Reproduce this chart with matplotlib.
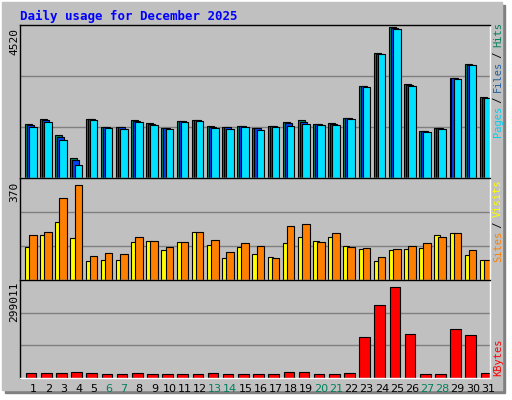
import matplotlib
matplotlib.use("Agg")
import matplotlib.pyplot as plt
from matplotlib.patches import Rectangle

days = list(range(1, 32))
weekend = [6, 7, 13, 14, 20, 21, 27, 28]
hits  = [1630,1780,1290,590,1780,1540,1540,1750,1660,1510,1720,1750,1570,1540,1570,1510,1570,1690,1750,1630,1660,1810,2760,3740,4520,2820,1420,1510,3000,3400,2420]
files = [1600,1740,1230,530,1760,1530,1520,1720,1630,1500,1700,1730,1540,1520,1550,1490,1550,1640,1680,1610,1630,1790,2740,3720,4490,2790,1400,1490,2980,3380,2400]
pages = [1540,1690,1140,380,1750,1510,1480,1690,1600,1480,1690,1720,1510,1480,1540,1450,1540,1570,1630,1600,1600,1780,2730,3700,4470,2760,1390,1480,2970,3370,2390]
sites  = [129,174,225,165,76,80,80,149,153,117,149,189,137,84,129,101,88,145,169,153,169,133,121,76,117,121,125,177,185,97,80]
visits = [174,189,319,370,92,105,101,169,153,129,149,189,157,109,145,133,84,209,217,149,185,129,125,88,121,133,145,169,185,117,80]
kbytes = [15300,15300,15300,18500,15300,12000,12000,15300,12000,12000,12000,12000,15300,12000,12000,12000,12000,18500,18500,12000,12000,15300,133100,237900,299011,143000,12000,12000,159300,139700,15300]
max_hits, max_visits, max_kb = 4520, 370, 299011

W, H = 512, 400
fig = plt.figure(figsize=(W/100, H/100), dpi=100)
fig.patch.set_facecolor("white")
mono = "DejaVu Sans Mono"

def fr(x0, y0, x1, y1):
    return [x0/W, 1 - y1/H, (x1-x0)/W, (y1-y0)/H]

bg = fig.add_axes([0, 0, 1, 1]); bg.set_xlim(0, W); bg.set_ylim(H, 0); bg.axis("off")
bg.add_patch(Rectangle((5, 5), 500, 388, color="#808080"))
bg.add_patch(Rectangle((2, 2), 500, 388, color="#c0c0c0"))
bg.text(20, 16, "Daily usage for December 2025", color="#0000ff", fontsize=9,
        fontweight="bold", family=mono, va="center")

def panel(y0, y1, top):
    ax = fig.add_axes(fr(20, y0, 490, y1))
    ax.set_facecolor("#c0c0c0")
    ax.set_xlim(0.5, 31.5); ax.set_ylim(0, top)
    ax.set_xticks([]); ax.set_yticks([])
    for g in (top/3, 2*top/3):
        ax.axhline(g, color="#808080", lw=1, zorder=0)
    for s in ax.spines.values():
        s.set_color("black"); s.set_linewidth(1)
    ax.spines["bottom"].set_color("white"); ax.spines["right"].set_color("white")
    return ax

kw = dict(align="edge", edgecolor="black", linewidth=0.8)
d = days
ax1 = panel(25, 178, max_hits*150/148)
ax1.bar([x-0.17 for x in d], hits, 0.46, color="#00805c", **kw)
ax1.bar([x-0.04 for x in d], files, 0.46, color="#0042f0", **kw)
ax1.bar([x+0.10 for x in d], pages, 0.50, color="#00e0ff", **kw)

ax2 = panel(178, 280, max_visits*99/92)
ax2.bar([x-0.17 for x in d], sites, 0.36, color="#ffff00", **kw)
ax2.bar([x+0.10 for x in d], visits, 0.50, color="#ff8000", **kw)

ax3 = panel(280, 378, max_kb*98/91.3)
ax3.bar([x-0.12 for x in d], kbytes, 0.70, color="#ff0000", **kw)

bg.text(14, 28, str(max_hits), rotation=90, fontsize=8, family=mono, va="top", ha="center")
bg.text(14, 182, str(max_visits), rotation=90, fontsize=8, family=mono, va="top", ha="center")
bg.text(14, 282, str(max_kb), rotation=90, fontsize=8, family=mono, va="top", ha="center")

for x in d:
    px = 20 + (x - 0.5) * 470/31 + 5.5
    bg.text(px, 389, str(x), fontsize=8, ha="center", va="center", family="DejaVu Sans",
            color="#00805c" if x in weekend else "black")

def vlabel(y_bottom, parts):
    y = y_bottom
    for txt, col in parts:
        bg.text(498, y, txt, rotation=90, color=col, fontsize=7.5, family=mono,
                ha="center", va="bottom")
        y -= len(txt) * 5.6
vlabel(137, [("Pages", "#00d0f0"), (" / ", "black"), ("Files", "#2060a0"), (" / ", "black"), ("Hits", "#00805c")])
vlabel(262, [("Sites", "#ff8000"), (" / ", "black"), ("Visits", "#ffff00")])
vlabel(376, [("KBytes", "#ff0000")])

fig.savefig("out.png", dpi=100, facecolor="white")
